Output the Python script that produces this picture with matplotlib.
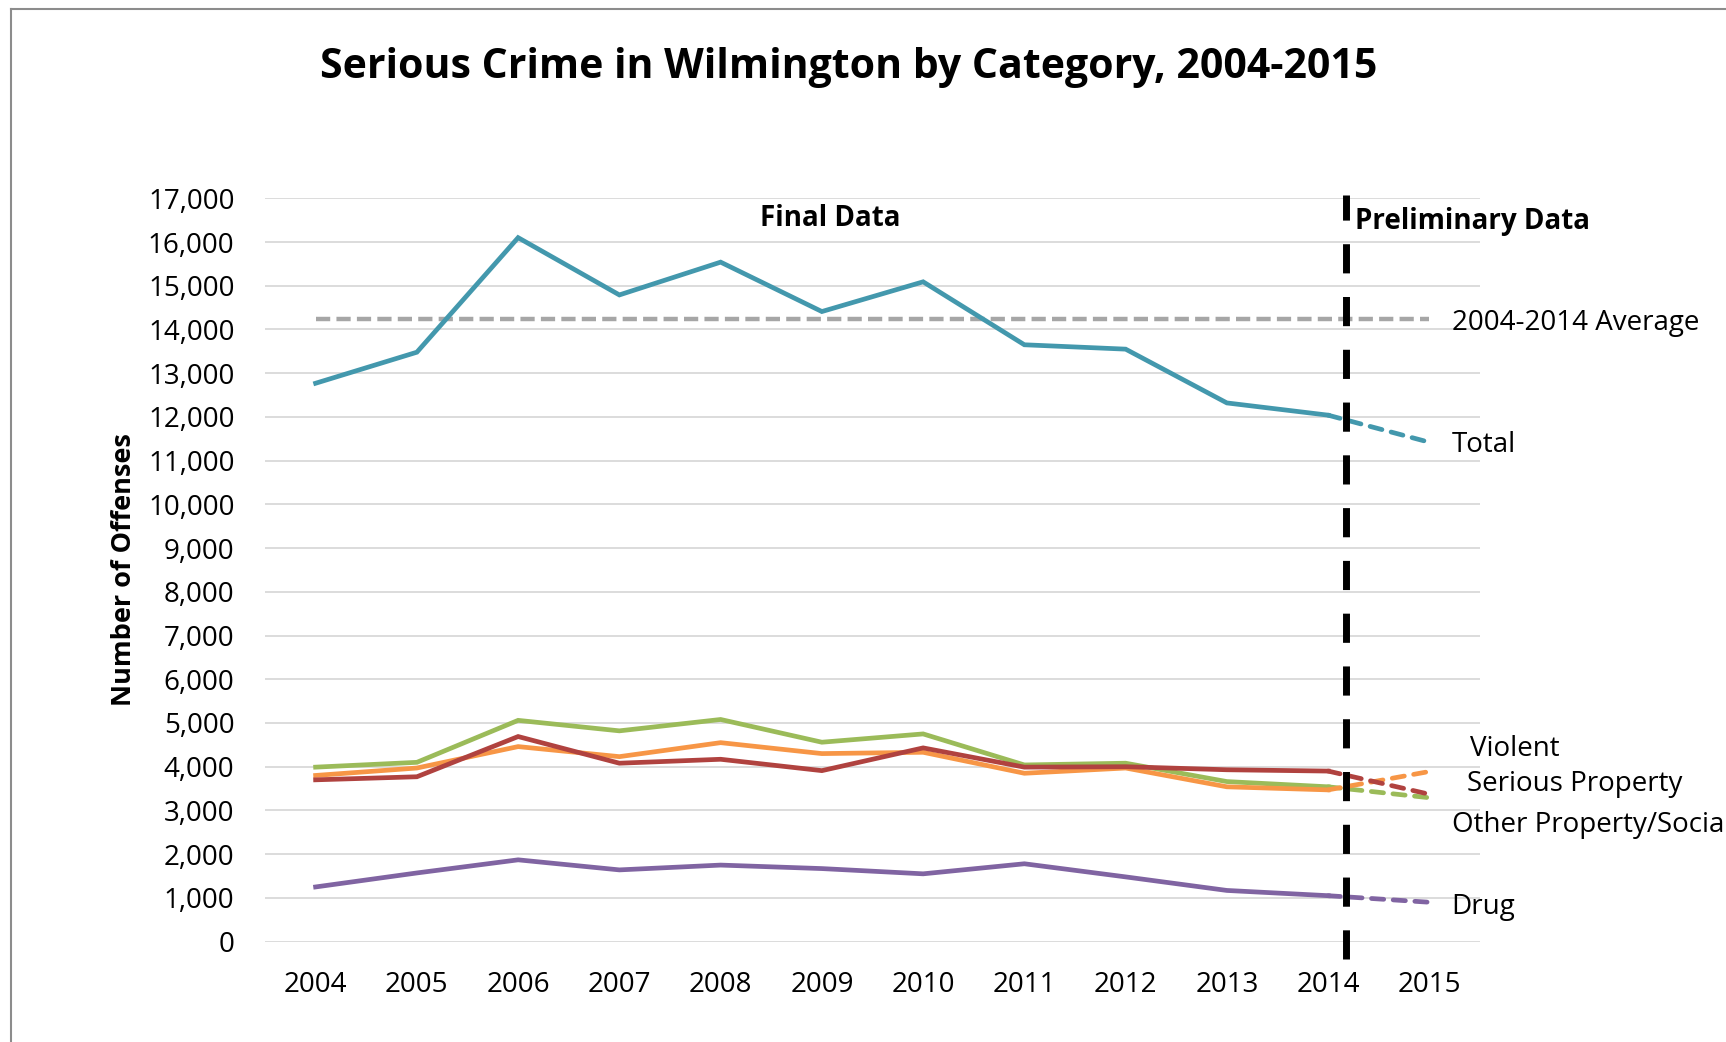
import numpy as np
import matplotlib
matplotlib.use("Agg")
import matplotlib.pyplot as plt
from matplotlib.lines import Line2D

plt.rcParams['font.family'] = ['Open Sans', 'DejaVu Sans']

years = [2004, 2005, 2006, 2007, 2008, 2009, 2010, 2011, 2012, 2013, 2014, 2015]

# final data 2004-2014, preliminary value for 2015 is the last entry
total = [12770, 13480, 16100, 14790, 15540, 14410, 15090, 13650, 13550, 12320, 12040, 11420]
other_prop = [3990, 4100, 5060, 4820, 5080, 4560, 4750, 4040, 4080, 3660, 3540, 3290]
serious_prop = [3800, 3970, 4460, 4230, 4550, 4300, 4330, 3850, 3970, 3540, 3470, 3890]
violent = [3700, 3770, 4690, 4080, 4170, 3910, 4430, 3990, 4000, 3930, 3900, 3370]
drug = [1250, 1570, 1870, 1640, 1750, 1670, 1550, 1780, 1480, 1170, 1050, 900]
average = 14230

series = [
    ('Total', total, '#4398AD'),
    ('Other Property/Social', other_prop, '#9BBB59'),
    ('Serious Property', serious_prop, '#F79646'),
    ('Violent', violent, '#B0423F'),
    ('Drug', drug, '#8064A2'),
]

# right-hand text labels (name, y position)
labels = [
    ('2004-2014 Average', 14150),
    ('Total', 11350),
    ('Violent', 4400),
    ('Serious Property', 3600),
    ('Other Property/Social', 2660),
    ('Drug', 800),
]
label_x = [2015.22, 2015.22, 2015.4, 2015.37, 2015.22, 2015.22]

W, H = 1726, 1042
fig = plt.figure(figsize=(W / 100, H / 100), dpi=100)
ax = fig.add_axes([265 / W, 1 - 941.6 / H, (1480 - 265) / W, (941.6 - 198.3) / H])

ax.set_xlim(2003.5, 2015.5)
ax.set_ylim(0, 17000)
ax.set_yticks(np.arange(0, 17001, 1000))
ax.set_yticklabels([f'{v:,}' for v in range(0, 17001, 1000)])
ax.set_xticks(years)
ax.set_xticklabels([str(y) for y in years])
ax.tick_params(length=0, labelsize=20, pad=22)
ax.tick_params(axis='x', pad=21)
ax.grid(axis='y', color='#D9D9D9', lw=1.3)
ax.set_axisbelow(True)
for s in ax.spines.values():
    s.set_visible(False)

# average line
ax.plot([years[0], years[-1]], [average, average], color='#A6A6A6', lw=3.2,
        dashes=(3.2, 1.4), zorder=2)

for name, vals, col in series:
    ax.plot(years[:-1], vals[:-1], color=col, lw=3.4, solid_joinstyle='miter', zorder=3)
    ax.plot(years[-2:], vals[-2:], color=col, lw=3.4, dashes=(2.6, 2.0),
            dash_capstyle='round', zorder=3)

# divider between final and preliminary data
ax.plot([2014.18, 2014.18], [-400, 17080], color='black', lw=5, dashes=(4.2, 3.4),
        clip_on=False, zorder=4)

ax.text(2009.08, 16540, 'Final Data', fontsize=20, fontweight='bold', ha='center', va='center')
ax.text(2014.27, 16480, 'Preliminary Data', fontsize=20, fontweight='bold', ha='left', va='center')

for (txt, yv), xv in zip(labels, label_x):
    ax.text(xv, yv, txt, fontsize=20, ha='left', va='center', clip_on=False)

ax.set_ylabel('Number of Offenses', fontsize=19.5, fontweight='bold', labelpad=8)

fig.text(0.4917, 1 - 67 / H, 'Serious Crime in Wilmington by Category, 2004-2015',
         fontsize=29.5, fontweight='bold', ha='center', va='center')

# chart border (top and left edges visible)
fig.add_artist(Line2D([11 / W, 11 / W], [0, 1 - 9 / H], color='#8C8C8C', lw=1.5))
fig.add_artist(Line2D([11 / W, 1], [1 - 9 / H, 1 - 9 / H], color='#8C8C8C', lw=1.5))

fig.savefig('out.png', dpi=100)
